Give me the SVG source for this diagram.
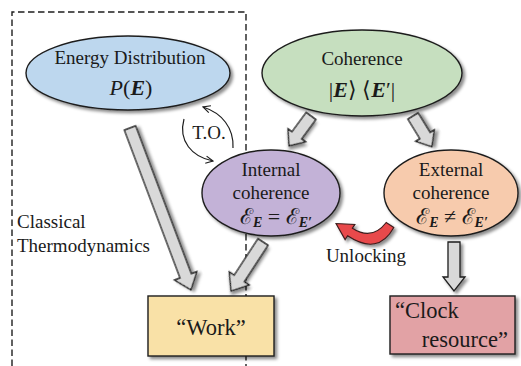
<svg xmlns="http://www.w3.org/2000/svg" width="521" height="366" viewBox="0 0 521 366" font-family="'Liberation Serif', 'Times New Roman', serif">
<style>
text{font-family:'Liberation Serif','Times New Roman',serif;font-size:19px;fill:#1a1a1a}
.c{text-anchor:middle}
.node{stroke:#1e1e1e;stroke-width:1.4}
.blk{fill:#d9d9d9;stroke:#1e1e1e;stroke-width:1.3;stroke-linejoin:miter}
.thin{fill:none;stroke:#1e1e1e;stroke-width:1.2}
.bi{font-weight:bold;font-style:italic}
.it{font-style:italic}
.m{font-size:22px}
.ms{font-size:22px}
.sub{font-size:14px;font-weight:bold;font-style:italic}
.big{font-size:22.5px}
</style>
<defs>
<filter id="sh" x="-20%" y="-20%" width="140%" height="140%">
<feDropShadow dx="2.5" dy="2.5" stdDeviation="1.6" flood-color="#000" flood-opacity="0.45"/>
</filter>
<marker id="ah" viewBox="0 0 10 10" refX="9" refY="5" markerWidth="9" markerHeight="9" markerUnits="userSpaceOnUse" orient="auto">
<path d="M1,1 L9,5 L1,9" fill="none" stroke="#1e1e1e" stroke-width="1.3"/>
</marker>
</defs>

<g id="frame">
<path d="M12,366 L12,12 L246,12 L246,366" fill="none" stroke="#1e1e1e" stroke-width="1.4" stroke-dasharray="6.5,3.5"/>
</g>

<g id="connectors">
<path class="blk" filter="url(#sh)" transform="translate(130,128) rotate(-20.63)" d="M-6,0 L6,0 L6,158 L12,158 L0,173 L-12,158 L-6,158 Z"/>
<path class="blk" filter="url(#sh)" transform="translate(263,242) rotate(33.1)" d="M-6,0 L6,0 L6,43.5 L12,43.5 L0,58.5 L-12,43.5 L-6,43.5 Z"/>
<path class="blk" filter="url(#sh)" transform="translate(311,116) rotate(36.3)" d="M-6,0 L6,0 L6,24 L11,24 L0,37 L-11,24 L-6,24 Z"/>
<path class="blk" filter="url(#sh)" transform="translate(413,116) rotate(-31.5)" d="M-6,0 L6,0 L6,23 L11,23 L0,36 L-11,23 L-6,23 Z"/>
<path class="blk" filter="url(#sh)" transform="translate(454,242)" d="M-6,0 L6,0 L6,35 L11,35 L0,49 L-11,35 L-6,35 Z"/>
<path d="M393.8,227.5 Q378,256 347.6,235.8 L345.1,239.6 L336,223.5 L354.9,224.4 L352.4,228.2 Q372,241 386.2,222.5 Z" fill="#e8484b" stroke="#3a1a1a" stroke-width="1.1" filter="url(#sh)"/>
<path class="thin" d="M184,119 C178,141 192,157 213,161" marker-end="url(#ah)"/>
<path class="thin" d="M233,148 C234,128 222,113 203,107" marker-end="url(#ah)"/>
<text class="c" x="209" y="139">T.O.</text>
<text class="c" x="366" y="262">Unlocking</text>
</g>

<g id="energy">
<ellipse class="node" cx="128" cy="73" rx="102" ry="37" fill="#bdd7ee" filter="url(#sh)"/>
<text class="c" x="130" y="64">Energy Distribution</text>
<text class="c m" x="131" y="95"><tspan class="it">P</tspan>(<tspan class="bi">E</tspan>)</text>
</g>

<g id="coherence">
<ellipse class="node" cx="362" cy="73" rx="100" ry="43" fill="#c6dfbf" filter="url(#sh)"/>
<text class="c" x="362" y="65">Coherence</text>
<text class="c m" x="362" y="97">|<tspan class="bi">E</tspan>⟩ ⟨<tspan class="bi">E</tspan>′|</text>
</g>

<g id="internal">
<ellipse class="node" cx="271" cy="193" rx="69" ry="43" fill="#c3b2d7" filter="url(#sh)"/>
<text class="c" x="271" y="176">Internal</text>
<text class="c" x="271" y="199">coherence</text>
<text class="c ms" x="276" y="224">ℰ<tspan class="sub" dy="3">E</tspan><tspan dy="-3"> = ℰ</tspan><tspan class="sub" dy="3">E′</tspan></text>
</g>

<g id="external">
<ellipse class="node" cx="451" cy="193" rx="67" ry="43" fill="#f7cbad" filter="url(#sh)"/>
<text class="c" x="451" y="176">External</text>
<text class="c" x="451" y="199">coherence</text>
<text class="c ms" x="452" y="224">ℰ<tspan class="sub" dy="3">E</tspan><tspan dy="-3"> ≠ ℰ</tspan><tspan class="sub" dy="3">E′</tspan></text>
</g>

<g id="classical">
<text x="17" y="228">Classical</text>
<text x="17" y="252">Thermodynamics</text>
</g>

<g id="work">
<rect class="node" x="148" y="296" width="126" height="60" fill="#f9e1a7" filter="url(#sh)"/>
<text class="c big" x="211" y="335">“Work”</text>
</g>

<g id="clock">
<rect class="node" x="390" y="296" width="125" height="58" fill="#e2a2a5" filter="url(#sh)"/>
<text class="big" x="395" y="318">“Clock</text>
<text class="big" x="508" y="347" text-anchor="end">resource”</text>
</g>
</svg>
